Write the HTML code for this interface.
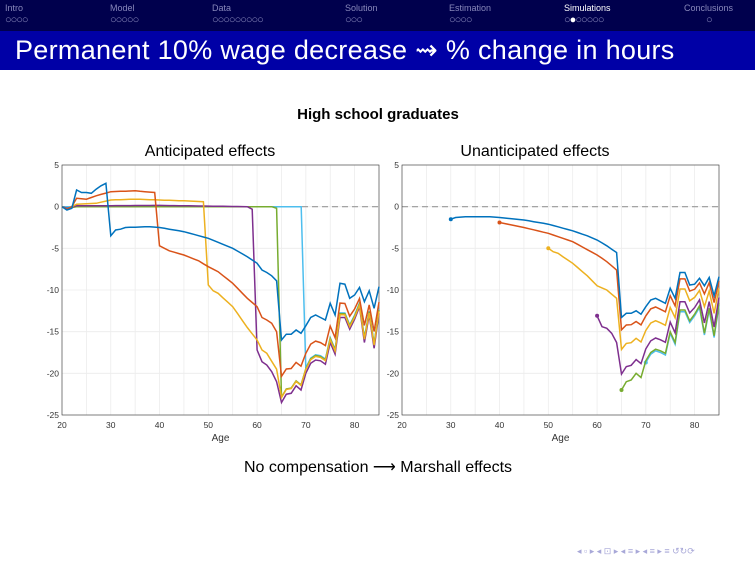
<!DOCTYPE html>
<html><head><meta charset="utf-8"><style>
body{margin:0;width:755px;height:567px;background:#fff;overflow:hidden;font-family:"Liberation Sans",sans-serif;position:relative}
#nav{position:absolute;left:0;top:0;width:755px;height:31px;background:#00004d}
#tb{position:absolute;left:0;top:31px;width:755px;height:39px;background:#0000a6;color:#fff;font-size:27px;line-height:39px;padding-left:15px;box-sizing:border-box;letter-spacing:0.3px}
.ni{position:absolute;top:3px;font-size:9px;color:#8888bb}
.nd{position:absolute;top:14px;font-size:11px;color:#8888bb;letter-spacing:-1px}
</style></head><body>
<div id="nav">
<div class="ni" style="left:5px">Intro</div><div class="nd" style="left:5px">○○○○</div>
<div class="ni" style="left:110px">Model</div><div class="nd" style="left:110px">○○○○○</div>
<div class="ni" style="left:212px">Data</div><div class="nd" style="left:212px">○○○○○○○○○</div>
<div class="ni" style="left:345px">Solution</div><div class="nd" style="left:345px">○○○</div>
<div class="ni" style="left:449px">Estimation</div><div class="nd" style="left:449px">○○○○</div>
<div class="ni" style="left:564px;color:#fff">Simulations</div><div class="nd" style="left:564px">○<span style="color:#fff">●</span>○○○○○</div>
<div class="ni" style="left:684px">Conclusions</div><div class="nd" style="left:706px">○</div>
</div>
<div id="tb">Permanent 10% wage decrease ⇝ % change in hours</div>
<svg id="s" width="755" height="567" style="position:absolute;left:0;top:0" font-family="Liberation Sans, sans-serif"></svg>
<script>
const C={b:"#0072BD",r:"#D95319",y:"#EDB120",p:"#7E2F8E",g:"#77AC30",c:"#4DBEEE"};
let h='';
h+='<text x="378" y="119" font-size="15" font-weight="bold" text-anchor="middle">High school graduates</text>';
h+='<text x="210" y="156" font-size="16" text-anchor="middle">Anticipated effects</text>';
h+='<text x="535" y="156" font-size="16" text-anchor="middle">Unanticipated effects</text>';
h+='<text x="378" y="472" font-size="16" text-anchor="middle">No compensation ⟶ Marshall effects</text>';
function axes(x0){
 const w=317;let s='';
 for(let a=20;a<=85;a+=5){let X=x0+(a-20)*w/65;s+=`<line x1="${X}" y1="165" x2="${X}" y2="415" stroke="#ececec" stroke-width="0.8"/>`;}
 for(let v=-25;v<=5;v+=5){let Y=165+(5-v)*250/30;s+=`<line x1="${x0}" y1="${Y}" x2="${x0+w}" y2="${Y}" stroke="#ececec" stroke-width="0.8"/>`;
  s+=`<text x="${x0-3}" y="${Y+3}" font-size="8.5" text-anchor="end" fill="#333">${v}</text>`;}
 for(let a=20;a<=80;a+=10){let X=x0+(a-20)*w/65;s+=`<text x="${X}" y="428" font-size="8.5" text-anchor="middle" fill="#333">${a}</text>`;}
 s+=`<text x="${x0+w/2}" y="441" font-size="10" text-anchor="middle" fill="#333">Age</text>`;
 s+=`<line x1="${x0}" y1="206.7" x2="${x0+w}" y2="206.7" stroke="#999" stroke-dasharray="6,4" stroke-width="1.2"/>`;
 s+=`<rect x="${x0}" y="165" width="${w}" height="250" fill="none" stroke="#333" stroke-width="0.6"/>`;
 return s;}
function path(x0,pts,col,dot){
 const m=p=>[(x0+(p[0]-20)*317/65).toFixed(1),(165+(5-p[1])*250/30).toFixed(1)];
 let d='M'+pts.map(p=>m(p).join(',')).join('L');
 let s=`<path d="${d}" fill="none" stroke="${col}" stroke-width="1.5"/>`;
 if(dot){let q=m(pts[0]);s+=`<circle cx="${q[0]}" cy="${q[1]}" r="2" fill="${col}"/>`;}
 return s;}
function ip(k){let ks=Object.keys(k).map(Number).sort((a,b)=>a-b);return a=>{for(let i=0;i<ks.length-1;i++){if(a>=ks[i]&&a<=ks[i+1]){let t=(a-ks[i])/(ks[i+1]-ks[i]);return k[ks[i]]+t*(k[ks[i+1]]-k[ks[i]]);}}return k[ks[ks.length-1]];};}
const PB=[-23.5,-22.5,-22.4,-21.5,-22,-20,-18.8,-18.4,-18.5,-18.9,-16.3,-17.7,-13.3,-13.3,-14.7,-13.5,-12,-16.3,-13,-17,-12.8];
const PT=[-16,-15.3,-15.3,-14.8,-15.2,-14.3,-13.3,-13,-13.3,-13.6,-11.6,-13,-9.2,-9.3,-11,-10.6,-9.7,-11.4,-10.1,-12.2,-9.6];
function post(f,off,from){let r=[];for(let a=from||65;a<=85;a++){let i=a-65;r.push([a,PB[i]+f*(PT[i]-PB[i])+(off||0)]);}return r;}
function pre(k,from,to){let f=ip(k),r=[];for(let a=from;a<=to;a++)r.push([a,f(a)]);return r;}
h+=axes(62);
let L=[];
L.push([C.c,pre({20:0,69:0},20,69).concat([[69.05,0]]).concat(post(0.06,0.3,70))]);
L.push([C.g,pre({20:0,21:-0.2,23:0,63:0,64:-0.2},20,64).concat(post(0.06,0.2))]);
L.push([C.p,pre({20:0,21:-0.2,23:0.1,40:0.15,58:0,59:-0.3},20,59).concat(pre({60:-17.2,61:-18.6,62:-19,63:-19.8,64:-21},60,64)).concat(post(0,0))]);
L.push([C.y,pre({20:0,21:-0.3,22:0,23:0.3,27:0.4,30:0.8,35:0.9,40:0.8,45:0.7,49:0.6},20,49).concat(pre({50:-9.4,51:-10.1,52:-10.4,55:-12,58:-14.5,60:-16,61:-17.2,62:-17.6,64:-19.5},50,64)).concat(post(0.08,0))]);
L.push([C.r,pre({20:0,21:-0.3,22:0,23:1,25:0.9,27:1.3,30:1.8,35:1.9,39:1.7},20,39).concat(pre({40:-4.7,42:-5.3,45:-5.8,48:-6.5,50:-7.2,52:-7.8,55:-9.2,58:-11,60:-12,61:-13.3,62:-13.6,63:-14,64:-15},40,64)).concat(post(0.42,0))]);
L.push([C.b,pre({20:0,21:-0.4,22:-0.2,23:2,24:1.7,25:1.7,26:1.6,27:2.1,28:2.5,29:2.8},20,29).concat(pre({30:-3.5,31:-2.8,32:-2.7,33:-2.5,38:-2.4,40:-2.5,45:-3,50:-3.8,55:-5,58:-6,60:-6.8,61:-7.6,62:-7.9,63:-8.3,64:-8.9},30,64)).concat(post(1,0))]);
for(const l of L)h+=path(62,l[1],l[0]);
h+=axes(402);
const UB=[-22,-21,-20.8,-20,-20.5,-18.5,-17.5,-17.1,-17.3,-17.6,-15,-16.3,-12.4,-12.4,-13.7,-12.9,-11.9,-15.2,-12.2,-15.5,-11.6];
const UT=[-13.3,-12.8,-12.8,-12.5,-12.9,-12,-11.2,-11,-11.3,-11.6,-9.8,-11,-7.9,-7.9,-9.4,-9.3,-8.6,-9.5,-8.5,-10.7,-8.4];
function upost(f,off,from){let r=[];for(let a=from||65;a<=85;a++){let i=a-65;r.push([a,UB[i]+f*(UT[i]-UB[i])+(off||0)]);}return r;}
let R=[];
R.push([C.c,upost(0,-0.2,70),1]);
R.push([C.g,upost(0,0),1]);
R.push([C.p,pre({60:-13.1,61:-14.4,62:-14.6,63:-15.2,64:-16.3},60,64).concat(upost(0.22,0)),1]);
R.push([C.y,pre({50:-5,51:-5.4,52:-5.6,55:-6.8,58:-8.3,60:-9.5,62:-10,64:-11},50,64).concat(upost(0.56,0)),1]);
R.push([C.r,pre({40:-1.9,45:-2.5,50:-3.2,55:-4.2,60:-5.8,62:-6.6,64:-7.6},40,64).concat(upost(0.83,0)),1]);
R.push([C.b,pre({30:-1.5,31:-1.3,33:-1.2,38:-1.2,40:-1.3,45:-1.6,50:-2.1,55:-2.9,58:-3.5,60:-4,62:-4.7,64:-5.5},30,64).concat(upost(1,0)),1]);
for(const l of R)h+=path(402,l[1],l[0],1);
h+='<text x="577" y="554" font-size="9" fill="#a8a8d8">◂ ▫ ▸ ◂ ⊡ ▸ ◂ ≡ ▸ ◂ ≡ ▸  ≡  ↺↻⟳</text>';
document.getElementById('s').innerHTML=h;
</script>
</body></html>
